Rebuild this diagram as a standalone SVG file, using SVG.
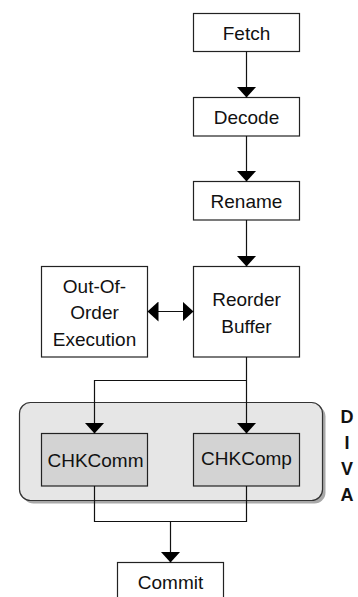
<svg xmlns="http://www.w3.org/2000/svg" width="358" height="597" viewBox="0 0 358 597">
<style>
.box{fill:#fff;stroke:#222;stroke-width:1.2}
.chk{fill:#d3d3d3;stroke:#222;stroke-width:1.2}
.t{font-family:"Liberation Sans",Arial,sans-serif;font-size:19px;fill:#111;text-anchor:middle}
.b{font-family:"Liberation Sans",Arial,sans-serif;font-size:18px;font-weight:bold;fill:#111;text-anchor:middle}
.c{fill:none;stroke:#111;stroke-width:1.2}
</style>
<defs>
<marker id="ah" viewBox="0 0 11 20" markerWidth="11" markerHeight="20" refX="11" refY="10" orient="auto-start-reverse" markerUnits="userSpaceOnUse">
<path d="M0,0 L11,10 L0,20 z" fill="#000"/>
</marker>
</defs>
<g id="diva">
<rect x="22.5" y="405.5" width="303" height="98" rx="11" fill="#a8a8a8"/>
<rect x="19.5" y="402.5" width="303" height="98" rx="11" fill="#e6e6e6" stroke="#333" stroke-width="1.2"/>
<text class="b" x="347" y="423">D</text>
<text class="b" x="347" y="449">I</text>
<text class="b" x="347" y="475">V</text>
<text class="b" x="347" y="501">A</text>
</g>
<g id="fetch"><rect class="box" x="193.5" y="13.5" width="106" height="38"/><text class="t" x="246.5" y="39.5">Fetch</text></g>
<g id="decode"><rect class="box" x="193.5" y="97.5" width="106" height="38.5"/><text class="t" x="246.5" y="124">Decode</text></g>
<g id="rename"><rect class="box" x="193.5" y="181.5" width="106" height="38.5"/><text class="t" x="246.5" y="208">Rename</text></g>
<g id="reorder"><rect class="box" x="193.5" y="266.5" width="106" height="90.5"/><text class="t" x="246.5" y="306">Reorder</text><text class="t" x="246.5" y="332.5">Buffer</text></g>
<g id="ooo"><rect class="box" x="41.5" y="266.5" width="106" height="90.5"/><text class="t" x="94.5" y="292.5">Out-Of-</text><text class="t" x="94.5" y="319">Order</text><text class="t" x="94.5" y="345.5">Execution</text></g>
<g id="chkcomm"><rect class="chk" x="41.5" y="433.5" width="106" height="52.5"/><text class="t" x="95.5" y="467">CHKComm</text></g>
<g id="chkcomp"><rect class="chk" x="193.5" y="433.5" width="106" height="52.5"/><text class="t" x="246.5" y="465">CHKComp</text></g>
<g id="commit"><rect class="box" x="117.5" y="562.5" width="106" height="50"/><text class="t" x="170.5" y="588.5">Commit</text></g>
<g id="connectors">
<path class="c" d="M246.5,51.5 V97.5" marker-end="url(#ah)"/>
<path class="c" d="M246.5,136 V181.5" marker-end="url(#ah)"/>
<path class="c" d="M246.5,220 V266.5" marker-end="url(#ah)"/>
<path class="c" d="M147.5,311.5 H193.5" marker-start="url(#ah)" marker-end="url(#ah)"/>
<path class="c" d="M246.5,357 V433.5" marker-end="url(#ah)"/>
<path class="c" d="M246.5,380.5 H94.5 V433.5" marker-end="url(#ah)"/>
<path class="c" d="M94.5,486 V521.5 H246.5 V486"/>
<path class="c" d="M170.5,521.5 V562.5" marker-end="url(#ah)"/>
</g>
</svg>
